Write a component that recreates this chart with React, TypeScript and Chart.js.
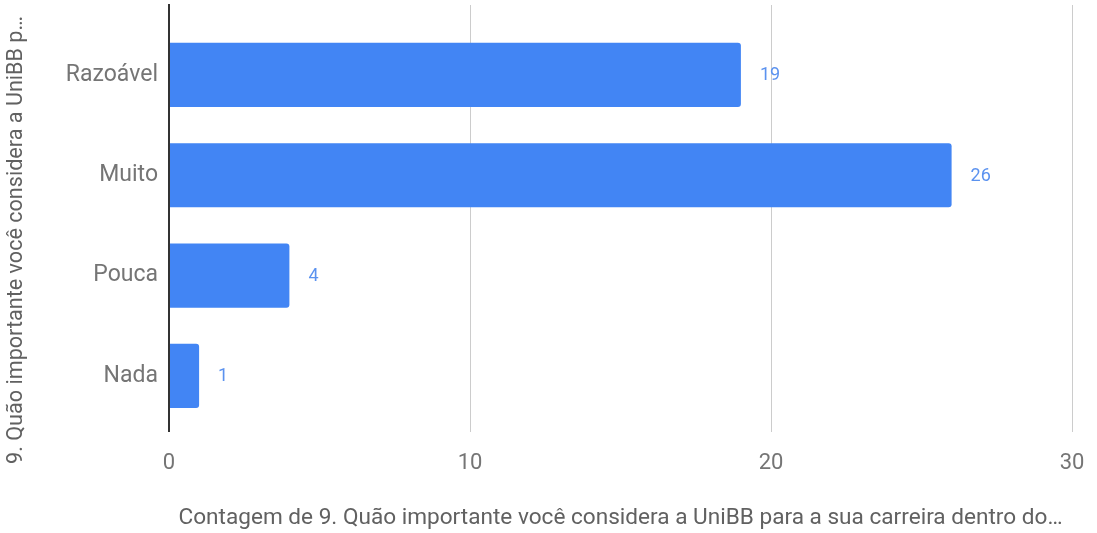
import React, { useEffect, useRef } from "react";
import { Chart, registerables } from "chart.js";

Chart.register(...registerables);

const categories = ["Razoável", "Muito", "Pouca", "Nada"];
const counts = [19, 26, 4, 1];
const xTicks = [0, 10, 20, 30];
const yTitle = "9. Quão importante você considera a UniBB p…";
const xTitle = "Contagem de 9. Quão importante você considera a UniBB para a sua carreira dentro do…";

const FONT = "Roboto";

const gridPlugin = {
  id: "extGrid",
  beforeDatasetsDraw(chart: any) {
    const { ctx, scales } = chart;
    const x = scales.x;
    const top = 5;
    const bottom = 432;
    ctx.save();
    xTicks.forEach((v) => {
      const px = Math.round(x.getPixelForValue(v));
      if (v === 0) return;
      ctx.strokeStyle = "#cccccc";
      ctx.lineWidth = 1;
      ctx.beginPath();
      ctx.moveTo(px + 0.5, top);
      ctx.lineTo(px + 0.5, bottom);
      ctx.stroke();
    });
    ctx.restore();
  },
  afterDatasetsDraw(chart: any) {
    const { ctx, scales } = chart;
    const x = scales.x;
    const px = x.getPixelForValue(0);
    ctx.save();
    ctx.strokeStyle = "#333333";
    ctx.lineWidth = 2;
    ctx.beginPath();
    ctx.moveTo(px, 4);
    ctx.lineTo(px, 432);
    ctx.stroke();
    // value labels
    const meta = chart.getDatasetMeta(0);
    ctx.fillStyle = "#5b92ef";
    ctx.font = `18px ${FONT}`;
    ctx.textAlign = "left";
    ctx.textBaseline = "middle";
    meta.data.forEach((bar: any, i: number) => {
      ctx.fillText(String(counts[i]), bar.x + 19, bar.y + 1);
    });
    // y axis title
    ctx.translate(17, 240);
    ctx.rotate(-Math.PI / 2);
    ctx.fillStyle = "#616161";
    ctx.font = `21.6px ${FONT}`;
    ctx.textAlign = "center";
    ctx.textBaseline = "middle";
    ctx.fillText(yTitle, 0, 0);
    ctx.restore();
  },
};

export default function App() {
  const ref = useRef<HTMLCanvasElement>(null);
  useEffect(() => {
    document.body.style.margin = "0";
    const chart = new Chart(ref.current!, {
      type: "bar",
      data: {
        labels: categories,
        datasets: [
          {
            data: counts,
            backgroundColor: "#4285f4",
            borderRadius: 3,
            borderSkipped: "start",
            barPercentage: 0.8,
            categoryPercentage: 0.8,
          },
        ],
      },
      options: {
        indexAxis: "y",
        animation: false,
        responsive: false,
        maintainAspectRatio: false,
        layout: { padding: { top: 24, right: 25, left: 0, bottom: 0 } },
        plugins: {
          legend: { display: false },
          tooltip: { enabled: false },
        },
        scales: {
          x: {
            min: 0,
            max: 30,
            afterBuildTicks: (s: any) => {
              s.ticks = xTicks.map((v) => ({ value: v }));
            },
            afterFit: (s: any) => {
              s.height = 107;
              s.paddingRight = 0;
              s.paddingLeft = 0;
            },
            grid: { display: false, drawTicks: false },
            border: { display: false },
            ticks: {
              color: "#757575",
              font: { family: FONT, size: 22 },
              padding: 24,
            },
            title: {
              display: true,
              text: xTitle,
              color: "#616161",
              font: { family: FONT, size: 22.6 },
              padding: { top: 0, bottom: 1 },
            },
          },
          y: {
            afterFit: (s: any) => {
              s.width = 169;
            },
            grid: { display: false, drawTicks: false },
            border: { display: false },
            ticks: {
              color: "#757575",
              font: { family: FONT, size: 23 },
              padding: 11,
            },
            title: { display: false },
          },
        },
      },
      plugins: [gridPlugin],
    });
    return () => chart.destroy();
  }, []);
  return <canvas ref={ref} width={1097} height={533} style={{ display: "block" }} />;
}
